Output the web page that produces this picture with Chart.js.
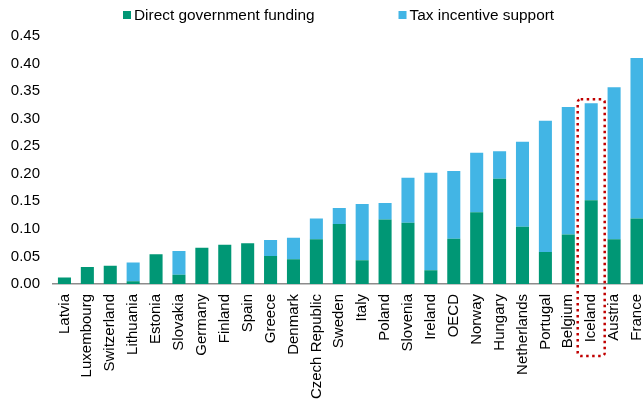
<!DOCTYPE html>
<html>
<head>
<meta charset="utf-8">
<script src="https://cdn.jsdelivr.net/npm/chart.js@4.4.1/dist/chart.umd.min.js"></script>
<style>
  html, body { margin: 0; padding: 0; background: #fff; overflow: hidden; }
  #wrap { width: 665px; height: 402px; }
</style>
</head>
<body>
<div id="wrap"><canvas id="chart-apoyo"></canvas></div>
<script>
// Paises ordenados por apoyo total
const paises = ['Latvia', 'Luxembourg', 'Switzerland', 'Lithuania', 'Estonia', 'Slovakia', 'Germany',
    'Finland', 'Spain', 'Greece', 'Denmark', 'Czech Republic', 'Sweden', 'Italy', 'Poland', 'Slovenia',
    'Ireland', 'OECD', 'Norway', 'Hungary', 'Netherlands', 'Portugal', 'Belgium', 'Iceland', 'Austria', 'France'];

const financiacionDirecta = [0.012, 0.031, 0.033, 0.005, 0.054, 0.017, 0.066, 0.071, 0.074, 0.051, 0.045, 0.081,
    0.109, 0.043, 0.117, 0.111, 0.025, 0.082, 0.130, 0.191, 0.104, 0.058, 0.090, 0.152, 0.081, 0.119];

const incentivosFiscales = [0, 0, 0, 0.034, 0, 0.043, 0, 0, 0, 0.029, 0.039, 0.038,
    0.029, 0.102, 0.030, 0.082, 0.177, 0.123, 0.108, 0.050, 0.154, 0.238, 0.231, 0.176, 0.276, 0.291];

const ticksY = [0, 0.05, 0.10, 0.15, 0.20, 0.25, 0.30, 0.35, 0.40, 0.45];

const paisDestacado = 'Iceland';

const familia = 'Liberation Sans, Arial, sans-serif';
const fuente = { family: familia, size: 15 };

// Leyenda propia arriba, con mas separacion entre elementos
const leyenda = {
    id: 'leyenda',
    afterDraw(chart) {
        const ctx = chart.ctx;
        ctx.save();
        ctx.font = `15.4px ${familia}`;
        ctx.textBaseline = 'middle';
        let x = 123;
        chart.data.datasets.forEach(ds => {
            ctx.fillStyle = ds.backgroundColor;
            ctx.fillRect(x, 11, 8, 8);
            ctx.fillStyle = '#000';
            ctx.fillText(ds.label, x + 11, 15.5);
            x += 11 + ctx.measureText(ds.label).width + 84;
        });
        ctx.restore();
    }
};

// Recuadro punteado alrededor de Islandia
const recuadro = {
    id: 'recuadro',
    afterDatasetsDraw(chart) {
        const i = paises.indexOf(paisDestacado);
        const xs = chart.scales.x, ys = chart.scales.y;
        const cx = xs.getPixelForValue(i);
        const top = ys.getPixelForValue(financiacionDirecta[i] + incentivosFiscales[i]) - 4;
        const ctx = chart.ctx;
        ctx.save();
        ctx.strokeStyle = '#c00000';
        ctx.lineWidth = 2.5;
        ctx.setLineDash([2.5, 3.5]);
        ctx.beginPath();
        ctx.roundRect(cx - 13.5, top, 27, 356 - top, 3);
        ctx.stroke();
        ctx.restore();
    }
};

document.addEventListener('DOMContentLoaded', () => {
    const ctx = document.getElementById('chart-apoyo').getContext('2d');
    new Chart(ctx, {
        type: 'bar',
        data: {
            labels: paises,
            datasets: [{
                label: 'Direct government funding',
                data: financiacionDirecta,
                backgroundColor: '#009775'
            }, {
                label: 'Tax incentive support',
                data: incentivosFiscales,
                backgroundColor: '#42b5e5'
            }]
        },
        options: {
            responsive: true,
            maintainAspectRatio: false,
            animation: false,
            layout: { padding: { top: 36, right: 0, left: 0, bottom: 0 } },
            datasets: { bar: { categoryPercentage: 1, barPercentage: 0.57 } },
            plugins: { legend: { display: false }, tooltip: { enabled: false } },
            scales: {
                x: {
                    stacked: true,
                    grid: { display: false, drawTicks: false },
                    border: { display: true, color: '#8c8c8c', width: 1.5 },
                    ticks: {
                        color: '#000',
                        font: fuente,
                        minRotation: 90,
                        maxRotation: 90,
                        autoSkip: false,
                        padding: 10
                    },
                    afterFit: scale => { scale.height = 118; }
                },
                y: {
                    stacked: true,
                    min: 0,
                    max: 0.45,
                    grid: { display: false, drawTicks: false },
                    border: { display: false },
                    afterBuildTicks: scale => { scale.ticks = ticksY.map(v => ({ value: v })); },
                    ticks: {
                        color: '#000',
                        font: fuente,
                        padding: 13,
                        callback: v => v.toFixed(2)
                    },
                    afterFit: scale => { scale.width = 53; }
                }
            }
        },
        plugins: [leyenda, recuadro]
    });
});
</script>
</body>
</html>
